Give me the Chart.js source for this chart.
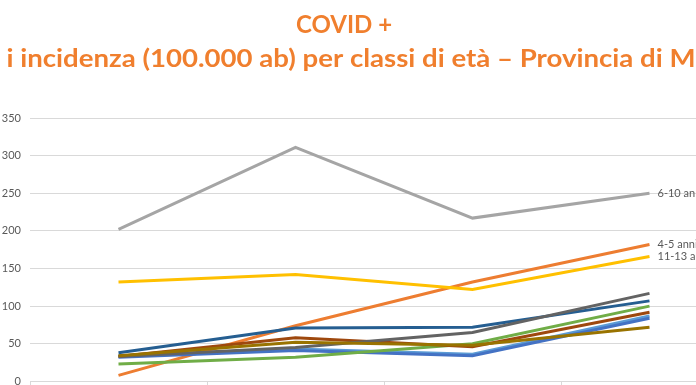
<!DOCTYPE html>
<html>
<head>
<meta charset="utf-8">
<script src="https://cdn.jsdelivr.net/npm/chart.js@4"></script>
<style>
  html, body { margin: 0; padding: 0; background: #fff; overflow: hidden; }
  /* the picture is a crop of a bigger slide: the chart runs past the right and bottom edges */
  #wrap { width: 770px; height: 397px; position: relative; }
</style>
</head>
<body>
<div id="wrap"><canvas id="incidenzaChart"></canvas></div>
<script>
// Periods (axis labels are cropped out of the picture)
const periods = ["Periodo 1", "Periodo 2", "Periodo 3", "Periodo 4"];

// Series values, Excel order (later series drawn on top)
const serie1 = [34, 43, 36, 87];
const anni4_5 = [8, 74, 132, 182];
const anni6_10 = [202, 311, 217, 250];
const anni11_13 = [132, 142, 122, 166];
const serie5 = [32, 41, 34, 84];
const serie6 = [23, 32, 50, 100];
const serie7 = [38, 71, 72, 107];
const serie8 = [33, 58, 46, 92];
const serie9 = [33, 45, 65, 117];
const serie10 = [34, 52, 48, 72];

const yTicks = [0, 50, 100, 150, 200, 250, 300, 350];

const series = [
  { label: "Serie 1", data: serie1, color: "#5B9BD5" },
  { label: "4-5 anni", data: anni4_5, color: "#ED7D31", tag: true },
  { label: "6-10 anni", data: anni6_10, color: "#A5A5A5", tag: true },
  { label: "11-13 anni", data: anni11_13, color: "#FFC000", tag: true },
  { label: "Serie 5", data: serie5, color: "#4472C4" },
  { label: "Serie 6", data: serie6, color: "#70AD47" },
  { label: "Serie 7", data: serie7, color: "#255E91" },
  { label: "Serie 8", data: serie8, color: "#9E480E" },
  { label: "Serie 9", data: serie9, color: "#636363" },
  { label: "Serie 10", data: serie10, color: "#997300" },
];

// Title lines drawn over the canvas (the original slide title is cropped)
const titlePlugin = {
  id: "slideTitle",
  afterDraw(chart) {
    const ctx = chart.ctx;
    ctx.save();
    ctx.fillStyle = "#F07F2E";
    ctx.textAlign = "center";
    ctx.textBaseline = "alphabetic";
    ctx.font = "bold 24px Lato";
    ctx.fillText("COVID +", 344, 33);
    // slide font is narrower than Lato, stretch the long line a bit
    ctx.translate(351, 67);
    ctx.scale(1.15, 1);
    ctx.font = "bold 24px Lato";
    ctx.fillText("i incidenza (100.000 ab) per classi di età – Provincia di M", 0, 0);
    ctx.restore();
  },
};

// Labels at the end of the tagged lines
const endLabels = {
  id: "endLabels",
  afterDatasetsDraw(chart) {
    const ctx = chart.ctx;
    ctx.save();
    ctx.fillStyle = "#595959";
    ctx.font = "11px Lato";
    ctx.textAlign = "left";
    ctx.textBaseline = "middle";
    chart.data.datasets.forEach((ds, i) => {
      if (!ds.tag) return;
      const pts = chart.getDatasetMeta(i).data;
      const last = pts[pts.length - 1];
      ctx.fillText(ds.label, last.x + 8, last.y);
    });
    ctx.restore();
  },
};

new Chart(document.getElementById("incidenzaChart"), {
  type: "line",
  data: {
    labels: periods,
    datasets: series.map((s, i) => ({
      label: s.label,
      data: s.data,
      tag: s.tag,
      borderColor: s.color,
      backgroundColor: s.color,
      borderWidth: 3,
      pointRadius: 0,
      tension: 0,
      order: series.length - i,
    })),
  },
  options: {
    responsive: true,
    maintainAspectRatio: false,
    animation: false,
    layout: { padding: { top: 118, right: 32, left: 0, bottom: 0 } },
    plugins: {
      legend: { display: false },
      tooltip: { enabled: false },
      title: { display: false },
    },
    scales: {
      x: {
        offset: true,
        afterFit(scale) {
          scale.height = 3.5;
        },
        grid: {
          offset: true,
          drawOnChartArea: false,
          drawTicks: true,
          tickLength: 5,
          color: "#D9D9D9",
        },
        border: { display: true, color: "#D9D9D9" },
        ticks: { display: false },
      },
      y: {
        min: 0,
        max: 350,
        afterFit(scale) {
          scale.width = 30;
        },
        afterBuildTicks(scale) {
          scale.ticks = yTicks.map(v => ({ value: v }));
        },
        grid: { color: "#D9D9D9", drawTicks: false },
        border: { display: false },
        ticks: {
          color: "#595959",
          font: { family: "Lato", size: 11 },
          padding: 9,
        },
      },
    },
  },
  plugins: [titlePlugin, endLabels],
});
</script>
</body>
</html>
